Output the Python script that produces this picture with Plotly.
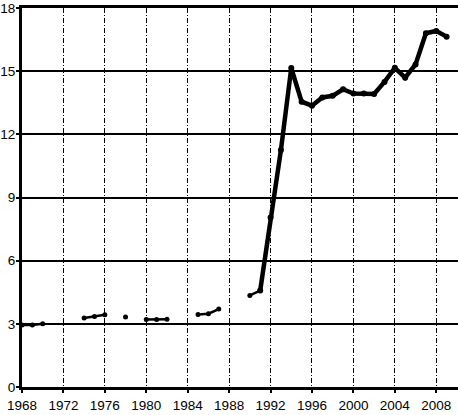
import plotly.graph_objects as go

years = list(range(1968, 2010))
values = [2.95, 2.95, 3.0, None, None, None, 3.28, 3.35, 3.43, None,
          3.33, None, 3.2, 3.2, 3.22, None, None, 3.44, 3.48, 3.7,
          None, None, 4.35, 4.58, 8.05, 11.25, 15.15, 13.55, 13.36, 13.75,
          13.83, 14.14, 13.94, 13.94, 13.92, 14.49, 15.16, 14.69, 15.32, 16.8,
          16.91, 16.64]
x_ticks = list(range(1968, 2009, 4))
x_tick_labels = [str(y) for y in x_ticks]
y_ticks = [0, 3, 6, 9, 12, 15, 18]
y_tick_labels = [str(v) for v in y_ticks]

split_year = 1991
early_x = [y for y in years if y <= split_year]
early_y = [v for y, v in zip(years, values) if y <= split_year]
late_x = [y for y in years if y >= split_year]
late_y = [v for y, v in zip(years, values) if y >= split_year]

fig = go.Figure()
fig.add_trace(go.Scatter(
    x=early_x, y=early_y, mode="lines+markers", connectgaps=False,
    line=dict(color="black", width=2.5),
    marker=dict(color="black", size=5),
    showlegend=False, cliponaxis=False,
))
fig.add_trace(go.Scatter(
    x=late_x, y=late_y, mode="lines+markers", connectgaps=False,
    line=dict(color="black", width=4.5),
    marker=dict(color="black", size=6),
    showlegend=False, cliponaxis=False,
))

font = dict(family="Liberation Sans, Arial, sans-serif", size=13.5, color="black")

fig.update_layout(
    width=458, height=415,
    margin=dict(l=22, r=0, t=8, b=28),
    paper_bgcolor="white", plot_bgcolor="white",
    font=font,
    xaxis=dict(
        range=[1968, 2010.1], automargin=False,
        tickmode="array", tickvals=x_ticks, ticktext=x_tick_labels,
        showgrid=True, gridcolor="black", gridwidth=1, griddash="5px,2px,1px,2px",
        showline=True, linecolor="black", linewidth=3, mirror=True,
        ticks="outside", ticklen=3, tickcolor="black", tickwidth=2,
        ticklabelstandoff=1, ticklabeloverflow="allow",
        zeroline=False, tickfont=font,
    ),
    yaxis=dict(
        range=[0, 18], automargin=False,
        tickmode="array", tickvals=y_ticks, ticktext=y_tick_labels,
        showgrid=True, gridcolor="black", gridwidth=2,
        showline=True, linecolor="black", linewidth=3,
        ticks="outside", ticklen=3, tickcolor="black", tickwidth=2,
        ticklabelstandoff=-2, ticklabeloverflow="allow",
        zeroline=False, tickfont=font,
    ),
)

fig.write_html("out.html", config={"displayModeBar": False},
               post_script="document.body.style.margin='0';")
